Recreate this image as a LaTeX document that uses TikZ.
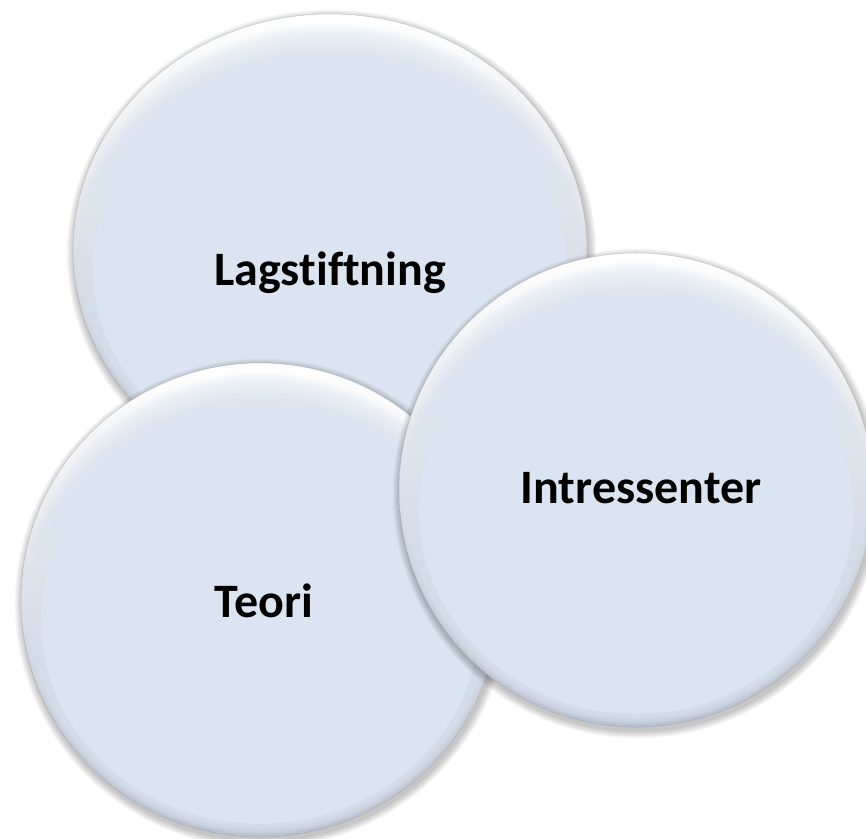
\documentclass[tikz,border=0pt]{standalone}
\usepackage{fontspec}
\setmainfont{Carlito}[Ligatures=NoCommon]
\definecolor{discblue}{RGB}{219,229,241}
\definecolor{rimgray}{RGB}{184,193,206}
\tikzset{
  lbl/.style={font=\fontsize{36}{42}\selectfont\bfseries, text=black, inner sep=0pt},
  shadowring/.style={fill=black, opacity=0.035},
  bevlayer/.style={fill=discblue, opacity=0.12},
  rimline/.style={draw=rimgray!60!black, line width=0.4pt, opacity=0.3}
}
% one bevelled disc: centre x, centre y, x radius, y radius
\newcommand{\bevdisc}[4]{%
  \foreach \k in {1,...,7}
    \fill[shadowring] (#1+1.5,#2+3.5) ellipse [x radius={#3+\k*1.1}, y radius={#4+\k*1.1}];
  \begin{scope}
    \clip (#1,#2) ellipse [x radius=#3, y radius=#4];
    \shade[top color=white, middle color=white, bottom color=rimgray]
      (#1-#3,#2-#4) rectangle (#1+#3,#2+#4);
    \foreach \k in {4,...,22}
      \fill[bevlayer] (#1,#2+\k*0.9) ellipse [x radius={#3-\k*0.9}, y radius={#4-\k*1.5}];
    \fill[discblue] (#1,#2+19.8) ellipse [x radius={#3-19.8}, y radius={#4-33}];
  \end{scope}
  \draw[rimline] (#1,#2) ellipse [x radius=#3, y radius=#4];
}

\begin{document}
\begin{tikzpicture}[x=0.75pt, y=-0.75pt]
  \useasboundingbox (0,0) rectangle (866,838);
  \clip (0,0) rectangle (866,838);
  % discs, back to front
  \bevdisc{330}{250}{257}{236}
  \bevdisc{260}{600}{239}{237}
  \bevdisc{636}{490}{237}{237}
  % labels
  \node[lbl, anchor=base] (lag) at (330,285) {Lagstiftning};
  \node[lbl, anchor=base] (teori) at (264,617) {Teori};
  \node[lbl, anchor=base] (intr) at (641,503) {Intressenter};
\end{tikzpicture}
\end{document}
